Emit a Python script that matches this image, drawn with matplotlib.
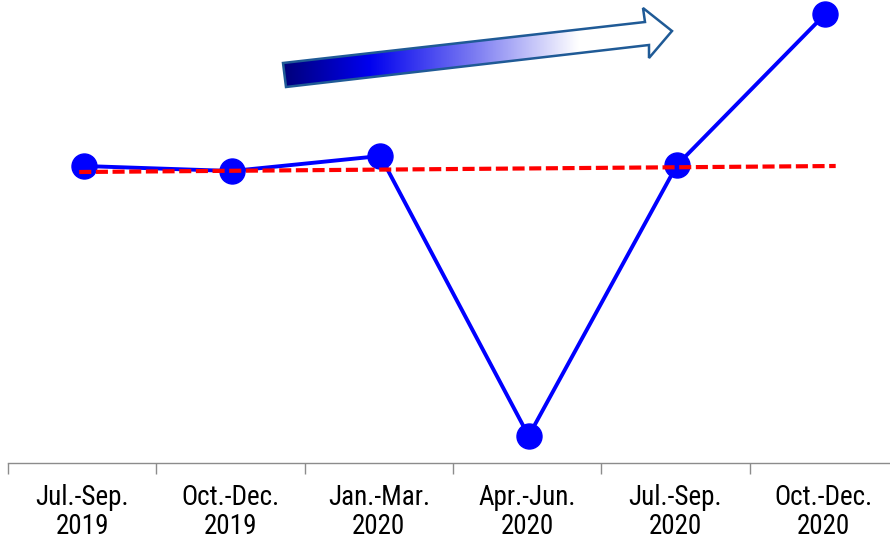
import numpy as np
import matplotlib.pyplot as plt
from matplotlib.colors import LinearSegmentedColormap
from matplotlib.patches import Polygon

plt.rcParams['font.family'] = ['Roboto Condensed', 'Liberation Sans', 'DejaVu Sans']

# quarters
quarters = ['Jul.-Sep.\n2019', 'Oct.-Dec.\n2019', 'Jan.-Mar.\n2020',
            'Apr.-Jun.\n2020', 'Jul.-Sep.\n2020', 'Oct.-Dec.\n2020']
# index values
values = [297, 292, 307, 27, 298, 449]

# dashed trend line: end points
trend_x = [-0.02, 5.08]
trend_y = [291, 297]

fig = plt.figure(figsize=(8.9, 5.41), dpi=100)
ax = fig.add_axes([8 / 890, 78 / 541, 890 / 890, 463 / 541])

x = np.arange(len(quarters))
ax.plot(trend_x, trend_y, color='#ff0000', lw=3, ls=(0, (2.9, 1.1)), zorder=3)
ax.plot(x + 0.01, values, color='#0000ff', lw=2.8, marker='o', ms=18,
        markerfacecolor='#0000ff', markeredgecolor='#0000ff', zorder=2)

ax.set_xlim(-0.5, 5.5)
ax.set_ylim(0, 463)
ax.set_xticks(x)
ax.set_xticklabels(quarters, fontsize=19.5, linespacing=1.1)
ax.set_xticks(np.arange(-0.5, 5.6, 1), minor=True)
ax.tick_params(axis='x', which='major', length=0, pad=15)
ax.tick_params(axis='x', which='minor', length=8, color='#8c8c8c', width=1)
ax.set_yticks([])
for s in ['top', 'right', 'left']:
    ax.spines[s].set_visible(False)
ax.spines['bottom'].set_color('#8c8c8c')
ax.spines['bottom'].set_linewidth(1)

# gradient arrow overlay in pixel coordinates
ov = fig.add_axes([0, 0, 1, 1])
ov.set_xlim(0, 890)
ov.set_ylim(541, 0)
ov.axis('off')
arrow_pts = [(283, 63), (645, 22), (643, 8), (672, 31), (649, 58), (649, 45), (286, 87)]
cmap = LinearSegmentedColormap.from_list(
    'arr', [(0, '#00007a'), (0.22, '#0000ee'), (0.5, '#7f7ff2'), (0.76, '#ffffff'), (1, '#ffffff')])
grad = np.linspace(0, 1, 256).reshape(1, -1)
im = ov.imshow(grad, cmap=cmap, extent=[283, 672, 90, 5], aspect='auto', zorder=4)
poly = Polygon(arrow_pts, closed=True, facecolor='none', edgecolor='#1f5a96', lw=1.8, zorder=5)
ov.add_patch(poly)
im.set_clip_path(poly)
ov.set_xlim(0, 890)
ov.set_ylim(541, 0)

fig.savefig('out.png', dpi=100)
